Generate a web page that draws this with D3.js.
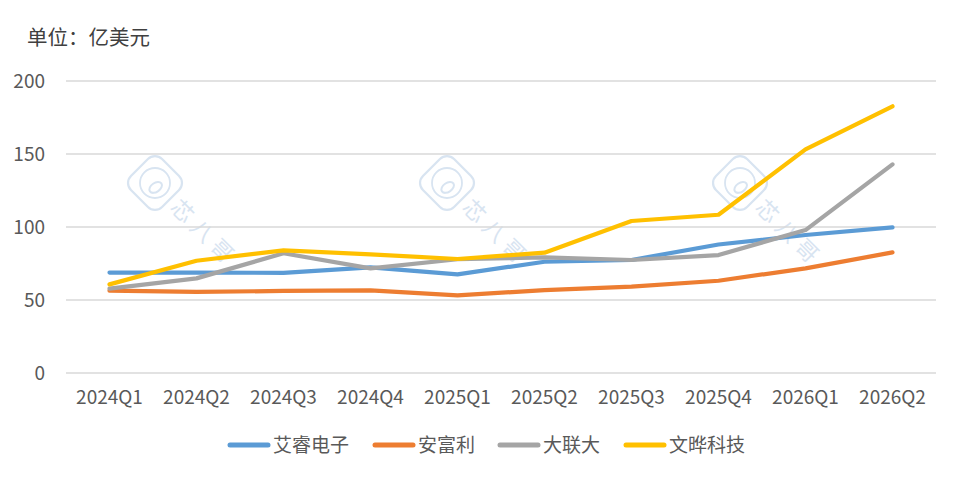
<!doctype html>
<html lang="zh">
  <head>
    <meta charset="utf-8">
    <title>分销商季度营收</title>
    <script src="https://d3js.org/d3.v7.min.js"></script>
    <style>
    body { margin: 0; background: #fff; }
    text { font-family: "Noto Sans CJK SC", "Noto Sans", sans-serif; }
    </style>
  </head>
  <body>
    <svg width="959" height="479"></svg>
    <script>
      var quarters = ['2024Q1', '2024Q2', '2024Q3', '2024Q4', '2025Q1',
                      '2025Q2', '2025Q3', '2025Q4', '2026Q1', '2026Q2'];
      var yTicks = [0, 50, 100, 150, 200];

      var seriesNames = ['艾睿电子', '安富利', '大联大', '文晔科技'];
      var arrow  = [68.8, 68.8, 68.6, 72.4, 67.6, 76.2, 77.4, 88.0, 94.5, 99.8];
      var avnet  = [56.4, 55.5, 56.2, 56.6, 53.2, 56.8, 59.1, 63.2, 71.7, 82.6];
      var wpg    = [57.8, 64.8, 82.0, 71.7, 77.9, 79.2, 77.4, 80.8, 97.9, 142.9];
      var wtmec  = [60.7, 76.9, 84.0, 81.3, 78.1, 82.4, 104.1, 108.4, 153.2, 182.7];
      var colors = ['#5B9BD5', '#ED7D31', '#A5A5A5', '#FFC000'];

      var series = [arrow, avnet, wpg, wtmec].map(function(v, i) {
        return { name: seriesNames[i], values: v, color: colors[i] };
      });

      var svg = d3.select('svg');
      var plotLeft = 66, plotRight = 936, plotTop = 81, plotBottom = 373;

      var x = d3.scaleBand().domain(quarters).range([plotLeft, plotRight]);
      var y = d3.scaleLinear().domain([0, 200]).range([plotBottom, plotTop]);

      // watermarks
      var wmColor = '#D8E4F1';
      var wm = svg.append('g').attr('class', 'watermark');
      [155, 447, 740].forEach(function(cx) {
        var g = wm.append('g').attr('transform', 'translate(' + cx + ',183)');
        g.append('rect')
          .attr('x', -22).attr('y', -22).attr('width', 44).attr('height', 44)
          .attr('rx', 10)
          .attr('transform', 'rotate(45)')
          .attr('fill', 'none').attr('stroke', wmColor).attr('stroke-width', 2.2);
        g.append('circle').attr('r', 15)
          .attr('fill', 'none').attr('stroke', wmColor).attr('stroke-width', 1.8);
        g.append('ellipse')
          .attr('cx', -2).attr('cy', 4).attr('rx', 7).attr('ry', 4.5)
          .attr('transform', 'rotate(-35)')
          .attr('fill', 'none').attr('stroke', wmColor).attr('stroke-width', 2);
        g.append('text')
          .attr('transform', 'translate(14,26) rotate(45)')
          .attr('font-size', 22).attr('fill', wmColor)
          .attr('letter-spacing', 6)
          .text('芯八哥');
      });

      // grid
      svg.append('g').selectAll('line')
        .data(yTicks)
        .enter().append('line')
          .attr('x1', plotLeft).attr('x2', plotRight)
          .attr('y1', function(d) { return y(d); })
          .attr('y2', function(d) { return y(d); })
          .attr('stroke', '#D9D9D9').attr('stroke-width', 1.3);

      var leftAxis = d3.axisLeft(y).tickValues(yTicks).tickSize(0).tickPadding(21);
      svg.append('g')
        .attr('transform', 'translate(' + plotLeft + ',0)')
        .call(leftAxis)
        .call(function(g) { g.select('.domain').remove(); })
        .selectAll('text')
          .attr('font-size', 19).attr('fill', '#595959')
          .style('font-family', '"Noto Sans CJK SC", sans-serif');

      var bottomAxis = d3.axisBottom(x).tickSize(0).tickPadding(18);
      svg.append('g')
        .attr('transform', 'translate(0,' + plotBottom + ')')
        .call(bottomAxis)
        .call(function(g) { g.select('.domain').remove(); })
        .selectAll('text')
          .attr('font-size', 19).attr('fill', '#595959')
          .style('font-family', '"Noto Sans CJK SC", sans-serif');

      var line = d3.line()
        .x(function(d, i) { return x(quarters[i]) + x.bandwidth() / 2; })
        .y(function(d) { return y(d); });

      svg.append('g').selectAll('path')
        .data(series)
        .enter().append('path')
          .attr('d', function(s) { return line(s.values); })
          .attr('fill', 'none')
          .attr('stroke', function(s) { return s.color; })
          .attr('stroke-width', 4.2)
          .attr('stroke-linejoin', 'round')
          .attr('stroke-linecap', 'round');

      svg.append('text')
        .attr('x', 27).attr('y', 45)
        .attr('font-size', 20.5).attr('fill', '#404040')
        .text('单位：亿美元');

      // legend
      var legendX = [228, 373, 498, 624];
      var lg = svg.append('g').selectAll('g')
        .data(series)
        .enter().append('g')
          .attr('transform', function(s, i) { return 'translate(' + legendX[i] + ',445)'; });
      lg.append('line')
        .attr('x1', 2).attr('x2', 40)
        .attr('stroke', function(s) { return s.color; })
        .attr('stroke-width', 5).attr('stroke-linecap', 'round');
      lg.append('text')
        .attr('x', 45).attr('y', 7)
        .attr('font-size', 19).attr('fill', '#595959')
        .text(function(s) { return s.name; });
    </script>
  </body>
</html>
